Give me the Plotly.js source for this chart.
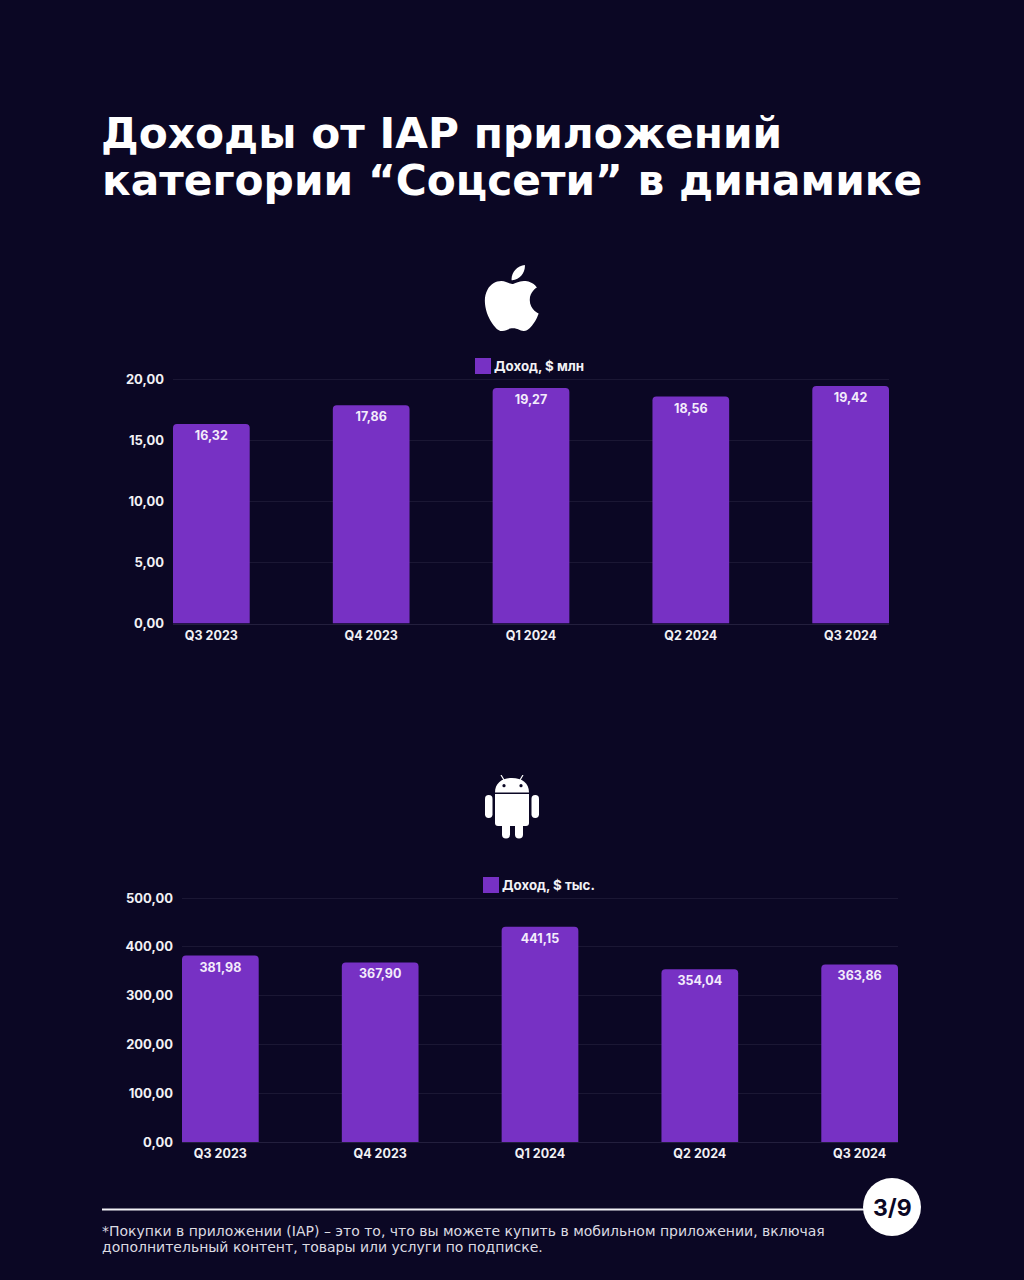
<!DOCTYPE html>
<html>
<head>
<meta charset="utf-8">
<script src="https://cdn.plot.ly/plotly-3.0.1.min.js"></script>
<style>
  html, body { margin: 0; padding: 0; background: #0b0724; }
  #chart { width: 1024px; height: 1280px; }
</style>
</head>
<body>
<div id="chart"></div>
<script>
const quarters = ["Q3 2023", "Q4 2023", "Q1 2024", "Q2 2024", "Q3 2024"];
const iosRevenue = [16.32, 17.86, 19.27, 18.56, 19.42];
const androidRevenue = [381.98, 367.90, 441.15, 354.04, 363.86];
const iosTicks = [0, 5, 10, 15, 20];
const androidTicks = [0, 100, 200, 300, 400, 500];

const BG = "#0b0724";
const PURPLE = "#7731c4";
const FONT = "Inter, 'Open Sans', sans-serif";
const WIDE_FONT = "'DejaVu Sans', Inter, sans-serif";
const W = 1024, H = 1280;

// page pixels -> paper fractions
const px = x => x / W;
const py = y => 1 - y / H;

const appleSvg = `<svg xmlns="http://www.w3.org/2000/svg" viewBox="2.3 0 19.6 24"><path fill="#fff" d="M12.152 6.896c-.948 0-2.415-1.078-3.96-1.04-2.04.027-3.91 1.183-4.961 3.014-2.117 3.675-.546 9.103 1.519 12.09 1.013 1.454 2.208 3.09 3.792 3.039 1.52-.065 2.09-.987 3.935-.987 1.831 0 2.35.987 3.96.948 1.637-.026 2.676-1.48 3.676-2.948 1.156-1.688 1.636-3.325 1.662-3.415-.039-.013-3.182-1.221-3.22-4.857-.026-3.04 2.48-4.494 2.597-4.559-1.429-2.09-3.623-2.324-4.39-2.376-2-.156-3.675 1.09-4.61 1.09zM15.53 3.83c.843-1.012 1.4-2.427 1.245-3.83-1.207.052-2.662.805-3.532 1.818-.78.896-1.454 2.338-1.273 3.714 1.338.104 2.715-.688 3.559-1.701"/></svg>`;

const androidSvg = `<svg xmlns="http://www.w3.org/2000/svg" viewBox="0 0 56 64"><g fill="#fff"><path d="M11 17.5C11 8 18 3 28 3S45 8 45 17.5Z"/><path d="M11 19H45V48a3 3 0 0 1-3 3H14a3 3 0 0 1-3-3Z"/><rect x="1" y="20" width="7.5" height="23" rx="3.7"/><rect x="47.5" y="20" width="7.5" height="23" rx="3.7"/><rect x="18" y="46" width="8" height="17.5" rx="4"/><rect x="31" y="46" width="8" height="17.5" rx="4"/></g><circle cx="20" cy="10.7" r="1.6" fill="${BG}"/><circle cx="37" cy="10.7" r="1.6" fill="${BG}"/><path d="M20 5L17 0M36 5L39 0" stroke="#fff" stroke-width="1.2"/></svg>`;

const svgUri = s => "data:image/svg+xml;base64," + btoa(s);

function barTrace(values, xa, ya, name) {
  return {
    type: "bar", x: quarters, y: values, xaxis: xa, yaxis: ya, name: name,
    marker: { color: PURPLE },
    texttemplate: "%{y:.2f}",
    textposition: "inside",
    insidetextanchor: "end",
    textangle: 0,
    insidetextfont: { family: FONT, size: 12.5, color: "#f3ecfb", weight: 700 },
    hoverinfo: "x+y",
    showlegend: false
  };
}

function xAxis(left, right, anchor) {
  return {
    domain: [px(left), px(right)], anchor: anchor,
    type: "category", range: [-0.24, 4.24],
    showgrid: false, zeroline: false, showline: true, linecolor: "#231f3d", linewidth: 1,
    ticks: "", ticklen: 0,
    tickfont: { family: FONT, size: 12.5, color: "#f2f1f5", weight: 700 }
  };
}

// top is 2px above the highest gridline so that plotly keeps that line
function yAxis(top, bottom, anchor, max, ticks) {
  return {
    domain: [py(bottom), py(top)], anchor: anchor,
    range: [0, max], tickmode: "array", tickvals: ticks, tickformat: ".2f",
    gridcolor: "#1b1734", gridwidth: 1, zeroline: false, showline: false,
    ticks: "", ticklabelstandoff: 8,
    tickfont: { family: FONT, size: 13, color: "#f2f1f5", weight: 700 }
  };
}

function pageText(text, x, y, size, color, weight, anchor, family) {
  return {
    xref: "paper", yref: "paper", x: px(x), y: py(y), text: text, showarrow: false,
    xanchor: anchor || "left", yanchor: "middle",
    font: { family: family || FONT, size: size, color: color, weight: weight }
  };
}

const TITLE_SIZE = 42.3;
const NOTE_SIZE = 14;

const layout = {
  width: W, height: H,
  margin: { l: 0, r: 0, t: 0, b: 0, pad: 0 },
  paper_bgcolor: BG, plot_bgcolor: "rgba(0,0,0,0)",
  separators: ", ",
  bargap: 0.52,
  barcornerradius: 4,
  showlegend: false,
  title: {
    text: "Доходы от IAP приложений",
    x: px(101), xanchor: "left", xref: "paper",
    y: py(133), yanchor: "middle", yref: "paper",
    font: { family: WIDE_FONT, size: TITLE_SIZE, color: "#fff", weight: 700 }
  },
  xaxis: xAxis(173, 889, "y"),
  yaxis: yAxis(377, 623.5, "x", 20.164, iosTicks),
  xaxis2: xAxis(182, 898, "y2"),
  yaxis2: yAxis(896, 1142, "x2", 504.1, androidTicks),
  annotations: [
    pageText("категории “Соцсети” в динамике", 100, 181, TITLE_SIZE, "#fff", 700, "left", WIDE_FONT),
    pageText("Доход, $ млн", 492, 366, 13.3, "#f2f1f5", 700),
    pageText("Доход, $ тыс.", 500, 885, 13.3, "#f2f1f5", 700),
    pageText("3/9", 892, 1208, 23, BG, 700, "center"),
    pageText("*Покупки в приложении (IAP) – это то, что вы можете купить в мобильном приложении, включая", 100, 1231, NOTE_SIZE, "#dcdbe2", 400, "left", WIDE_FONT),
    pageText("дополнительный контент, товары или услуги по подписке.", 100, 1247, NOTE_SIZE, "#dcdbe2", 400, "left", WIDE_FONT)
  ],
  shapes: [
    { type: "rect", xref: "paper", yref: "paper", x0: px(475), x1: px(491), y0: py(374), y1: py(358), fillcolor: PURPLE, line: { width: 0 } },
    { type: "rect", xref: "paper", yref: "paper", x0: px(483), x1: px(499), y0: py(893), y1: py(877), fillcolor: PURPLE, line: { width: 0 } },
    { type: "line", xref: "paper", yref: "paper", x0: px(102), x1: px(866), y0: py(1209.5), y1: py(1209.5), line: { color: "#f2f1f5", width: 2 } },
    { type: "circle", xref: "paper", yref: "paper", x0: px(863), x1: px(921), y0: py(1236), y1: py(1178), fillcolor: "#fff", line: { width: 0 } }
  ],
  images: [
    { source: svgUri(appleSvg), xref: "paper", yref: "paper", x: px(484), y: py(265), sizex: px(540) - px(484), sizey: py(265) - py(331), xanchor: "left", yanchor: "top", sizing: "contain", layer: "above" },
    { source: svgUri(androidSvg), xref: "paper", yref: "paper", x: px(484), y: py(775), sizex: px(540) - px(484), sizey: py(775) - py(839), xanchor: "left", yanchor: "top", sizing: "contain", layer: "above" }
  ]
};

Plotly.newPlot("chart", [
  barTrace(iosRevenue, "x", "y", "Доход, $ млн"),
  barTrace(androidRevenue, "x2", "y2", "Доход, $ тыс.")
], layout, { displayModeBar: false, responsive: false });
</script>
</body>
</html>
